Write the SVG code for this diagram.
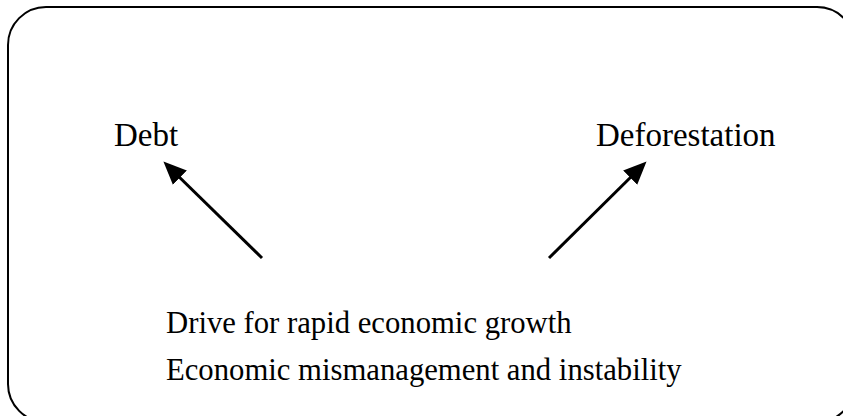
<svg xmlns="http://www.w3.org/2000/svg" width="843" height="416" viewBox="0 0 843 416">
  <style>
    .frame { fill: none; stroke: #000; stroke-width: 2; }
    .label { font-family: "Liberation Serif", "Times New Roman", serif; fill: #000; }
    .link { stroke: #000; stroke-width: 3; fill: none; marker-end: url(#head); }
  </style>
  <defs>
    <marker id="head" markerUnits="userSpaceOnUse" markerWidth="26" markerHeight="22" refX="11" refY="11" orient="auto">
      <path d="M0,1 L23,11 L0,21 z" fill="#000"/>
    </marker>
  </defs>
  <rect width="843" height="416" fill="#fff"/>
  <rect class="frame" x="8" y="7" width="847" height="415" rx="38" ry="38"/>

  <g id="debt">
    <text class="label" x="114" y="146" font-size="33">Debt</text>
  </g>
  <g id="deforestation">
    <text class="label" x="596" y="146" font-size="33">Deforestation</text>
  </g>
  <g id="causes">
    <text class="label" x="166" y="333" font-size="30.7">Drive for rapid economic growth</text>
    <text class="label" x="166" y="380" font-size="30.7">Economic mismanagement and instability</text>
  </g>

  <g id="connectors">
    <line class="link" x1="262" y1="258" x2="172" y2="170"/>
    <line class="link" x1="549" y1="258" x2="638" y2="170"/>
  </g>
</svg>
